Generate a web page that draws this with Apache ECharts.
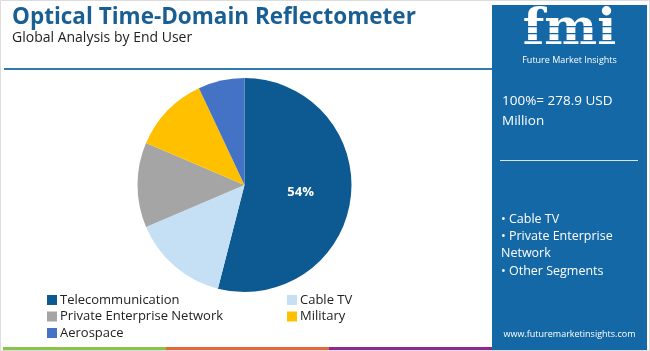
<!DOCTYPE html>
<html>
<head>
<meta charset="utf-8">
<script src="https://cdn.jsdelivr.net/npm/echarts@6/dist/echarts.min.js"></script>
<style>html,body{margin:0;padding:0;background:#fff}#c{width:650px;height:351px}</style>
</head>
<body>
<div id="c"></div>
<script>
const categories = ["Telecommunication", "Cable TV", "Private Enterprise Network", "Military", "Aerospace"];
const shares = [54.0, 14.6, 12.8, 11.6, 7.0];
const colors = ["#0d5a93", "#c5e0f4", "#a5a5a5", "#ffc000", "#4472c4"];
const titleText = "Optical Time-Domain Reflectometer";
const subtitleText = "Global Analysis by End User";
const totalText = ["100%= 278.9 USD", "Million"];
const bulletText = ["• Cable TV", "• Private Enterprise", "Network", "• Other Segments"];
const urlText = "www.futuremarketinsights.com";

const FONT = "'Open Sans', sans-serif";
const chart = echarts.init(document.getElementById('c'), null, {renderer: 'canvas'});

const pieData = categories.map((n, i) => ({
  name: n, value: shares[i], itemStyle: {color: colors[i]},
  label: {show: i === 0}
}));

const panelX = 492, panelW = 155;
const graphics = [
  {type: 'rect', shape: {x: 0.5, y: 0.5, width: 649, height: 350}, style: {fill: 'none', stroke: '#dcdcdc', lineWidth: 1}, z: 0},
  {type: 'text', left: 12, top: 6, style: {text: titleText, font: "bold 22.5px " + FONT, fill: '#1a5f93'}},
  {type: 'text', left: 12, top: 31, style: {text: subtitleText, font: "14px " + FONT, fill: '#222'}},
  {type: 'rect', shape: {x: 4, y: 68, width: panelX - 4, height: 2}, style: {fill: '#2f79b5'}},
  {type: 'rect', shape: {x: 3, y: 347, width: 163, height: 3}, style: {fill: '#8bc34a'}},
  {type: 'rect', shape: {x: 166, y: 347, width: 163, height: 3}, style: {fill: '#e8663a'}},
  {type: 'rect', shape: {x: 329, y: 347, width: 164, height: 3}, style: {fill: '#8e2a8e'}},
  {type: 'rect', shape: {x: panelX, y: 5, width: panelW, height: 345}, style: {fill: '#1468a6'}},
  {type: 'text', x: panelX + panelW / 2, y: 6, style: {text: 'fmi', font: "bold 50px 'DejaVu Serif', serif", fill: '#fff', align: 'center', verticalAlign: 'top'}},
  {type: 'rect', shape: {x: panelX + 20, y: 26, width: 115, height: 1.3}, style: {fill: '#1468a6'}, z: 10},
  {type: 'rect', shape: {x: panelX + 20, y: 33, width: 115, height: 1.3}, style: {fill: '#1468a6'}, z: 10},
  {type: 'rect', shape: {x: panelX + 20, y: 40, width: 115, height: 1.3}, style: {fill: '#1468a6'}, z: 10},
  {type: 'rect', shape: {x: panelX + 20, y: 47, width: 115, height: 1.3}, style: {fill: '#1468a6'}, z: 10},
  {type: 'text', x: panelX + panelW / 2, y: 56, style: {text: 'Future Market Insights', font: "9px " + FONT, fill: '#fff', align: 'center', verticalAlign: 'top'}},
  {type: 'text', x: 502, y: 94, style: {text: totalText[0], font: "13.5px " + FONT, fill: '#fff'}},
  {type: 'text', x: 502, y: 114, style: {text: totalText[1], font: "13.5px " + FONT, fill: '#fff'}},
  {type: 'rect', shape: {x: 500, y: 160, width: 138, height: 1}, style: {fill: '#d8e6f2'}},
  {type: 'text', x: 501, y: 213, style: {text: bulletText[0], font: "12.5px " + FONT, fill: '#fff'}},
  {type: 'text', x: 501, y: 230, style: {text: bulletText[1], font: "12.5px " + FONT, fill: '#fff'}},
  {type: 'text', x: 501, y: 247, style: {text: bulletText[2], font: "12.5px " + FONT, fill: '#fff'}},
  {type: 'text', x: 501, y: 265, style: {text: bulletText[3], font: "12.5px " + FONT, fill: '#fff'}},
  {type: 'text', x: panelX + panelW / 2, y: 330, style: {text: urlText, font: "9px " + FONT, fill: '#fff', align: 'center'}}
];

const legendBase = {
  orient: 'vertical', itemWidth: 10, itemHeight: 10, itemGap: 2.5,
  icon: 'rect', textStyle: {fontSize: 13, lineHeight: 14, fontFamily: FONT, color: '#222', padding: [0, 0, 0, -2]}
};

chart.setOption({
  animation: false,
  legend: [
    Object.assign({}, legendBase, {left: 42, top: 288, data: [categories[0], categories[2], categories[4]]}),
    Object.assign({}, legendBase, {left: 282, top: 288, data: [categories[1], categories[3]]})
  ],
  graphic: graphics,
  series: [{
    type: 'pie', center: [244.5, 185], radius: [0, 107], startAngle: 90, clockwise: true,
    data: pieData, itemStyle: {borderWidth: 0},
    label: {position: 'inside', formatter: p => Math.round(p.value) + '%', color: '#fff', fontWeight: 'bold', fontSize: 13, fontFamily: FONT},
    labelLine: {show: false}, emphasis: {disabled: true}
  }]
});
</script>
</body>
</html>
